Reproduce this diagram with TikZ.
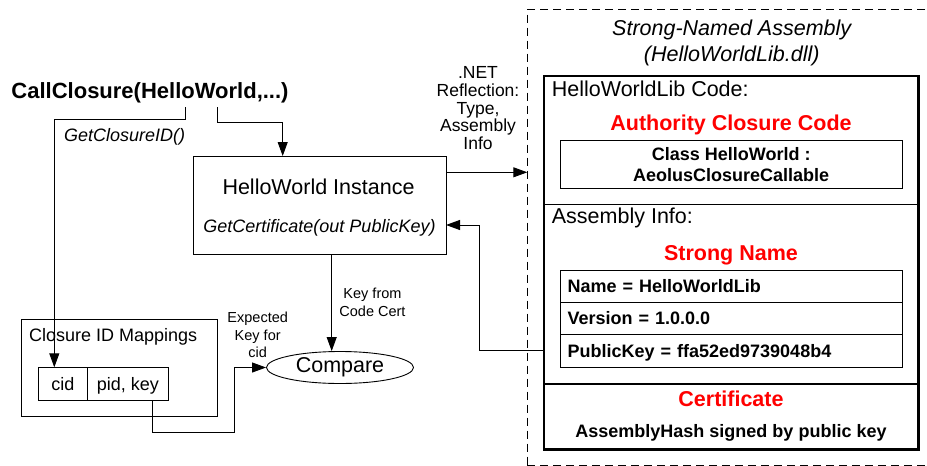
\documentclass[tikz,border=0pt]{standalone}
\usepackage{fontspec}
\setmainfont{Liberation Sans}
\usepackage{tikz}
\usetikzlibrary{arrows.meta, positioning, shapes.geometric}
\definecolor{namered}{RGB}{255,0,0}

\begin{document}
\begin{tikzpicture}[x=1pt, y=-1pt,
      box/.style={draw=black, line width=0.9pt, inner sep=0pt, outer sep=0pt, anchor=north west},
      thickbox/.style={draw=black, line width=2.8pt, inner sep=0pt, outer sep=0pt, anchor=north west},
      dashbox/.style={draw=black, line width=0.9pt, dash pattern=on 8pt off 5pt, inner sep=0pt, outer sep=0pt, anchor=north west},
      bigtext/.style={font=\fontsize{21.5}{24}\selectfont, inner sep=0pt},
      midtext/.style={font=\fontsize{18}{21}\selectfont, inner sep=0pt},
      boldtext/.style={font=\fontsize{18}{21}\selectfont\bfseries, inner sep=0pt},
      smalltext/.style={font=\fontsize{14.5}{17.8}\selectfont, align=center, inner sep=0pt},
      redtitle/.style={font=\fontsize{21.5}{24}\selectfont\bfseries, text=namered, inner sep=0pt},
      cell/.style={box, midtext, minimum height=32.7pt, text height=13pt, text depth=0pt},
      row/.style={box, boldtext, minimum width=342.3pt, minimum height=32.3pt, text width=327pt, align=left, text height=13pt, text depth=0pt},
      arrow/.style={-{Triangle[length=14pt, width=10pt]}, line width=0.9pt}
    ]

      % Fix the page to the size of the reference
      \useasboundingbox (0,0) rectangle (927,466);

      % Caller
      \node[font=\fontsize{22}{24}\selectfont\bfseries, inner sep=0pt, anchor=base] (call) at (150,98.5) {CallClosure(HelloWorld,...)};
      \node[midtext, font=\fontsize{18}{21}\selectfont\itshape, anchor=base west] (getid) at (64,141) {GetClosureID()};

      % HelloWorld instance box
      \node[box, minimum width=253pt, minimum height=98pt] (inst) at (193,156) {};
      \node[bigtext, anchor=base] (inst_name) at (318.5,194) {HelloWorld Instance};
      \node[midtext, font=\fontsize{18}{21}\selectfont\itshape, anchor=base] (inst_cert) at (319.5,232) {GetCertificate(out PublicKey)};

      % Reflection label
      \node[font=\fontsize{17.5}{17.75}\selectfont, align=center, inner sep=0pt] (refl) at (478,108.3) {.NET\\Reflection:\\Type,\\Assembly\\Info};

      % Closure ID mappings table
      \node[box, minimum width=196pt, minimum height=97pt] (mappings) at (21.7,319) {};
      \node[midtext, anchor=base west] (map_title) at (29,341.7) {Closure ID Mappings};
      \node[cell, minimum width=49pt] (cid) at (38.3,367.3) {cid};
      \node[cell, minimum width=81pt, right=0pt of cid] (pidkey) {pid, key};

      % Compare step
      \node[draw, ellipse, line width=0.9pt, minimum width=147pt, minimum height=32pt, bigtext] (compare) at (340,367.5) {Compare};
      \node[smalltext] (key_code) at (372.5,302) {Key from\\Code Cert};
      \node[smalltext] (key_exp) at (257.7,335) {Expected\\Key for\\cid};

      % Strong-named assembly (dashed frame runs past the right edge)
      \node[dashbox, minimum width=413pt, minimum height=455.7pt] (assembly) at (527.3,9.3) {};
      \node[font=\fontsize{21.5}{26}\selectfont\itshape, align=center, inner sep=0pt] (asm_title) at (731.7,42.5) {Strong-Named Assembly\\(HelloWorldLib.dll)};

      \node[thickbox, minimum width=374.3pt, minimum height=308pt] (libcode) at (544,76) {};
      \node[thickbox, minimum width=374.3pt, minimum height=65.3pt, below=0pt of libcode] (cert) {};

      % Divider between code and assembly info
      \draw[line width=0.9pt] ([yshift=-128.3pt]libcode.north west) -- ([yshift=-128.3pt]libcode.north east);

      \node[bigtext, anchor=base west] (code_title) at (551.7,96.7) {HelloWorldLib Code:};
      \node[redtitle, anchor=base] (auth_title) at (731,130) {Authority Closure Code};
      \node[box, boldtext, align=center, minimum width=342.3pt, minimum height=48.3pt] (classbox) at (560,140) {Class HelloWorld :\\AeolusClosureCallable};

      \node[bigtext, anchor=base west] (info_title) at (551.7,223.3) {Assembly Info:};
      \node[redtitle, anchor=base] (sn_title) at (731,260) {Strong Name};

      % Strong name rows
      \foreach \rowname/\rowtext [count=\i from 0] in {namerow/Name = HelloWorldLib, verrow/Version = 1.0.0.0, pkrow/PublicKey = ffa52ed9739048b4} {
        \node[row] (\rowname) at (560, {270+32.33*\i}) {\rowtext};
      }

      \node[redtitle, anchor=base] (cert_title) at (731,406.7) {Certificate};
      \node[boldtext, anchor=base] (cert_text) at (731,437.3) {AssemblyHash signed by public key};

      % Arrows
      \draw[arrow] ([xshift=35.7pt, yshift=-4pt]call.south) -- ++(0,12) -| ([xshift=-8.5pt]cid.north);
      \draw[arrow] ([xshift=67.7pt, yshift=-4pt]call.south) -- ++(0,15.3) -| ([xshift=-36.8pt]inst.north);
      \draw[arrow] ([yshift=32.7pt]inst.east) -- ([yshift=32.7pt]inst.east -| assembly.west);
      \draw[arrow] (pkrow.west -| libcode.west) -- ++(-64.3,0) |- ([yshift=-20pt]inst.east);
      \draw[arrow] ([xshift=12.2pt]inst.south) -- ([xshift=12.2pt]inst.south |- compare.north);
      \draw[arrow] ([xshift=24.9pt]pidkey.south) -- ++(0,32.7) -- ++(81.3,0) |- (compare.west);

\end{tikzpicture}
\end{document}
